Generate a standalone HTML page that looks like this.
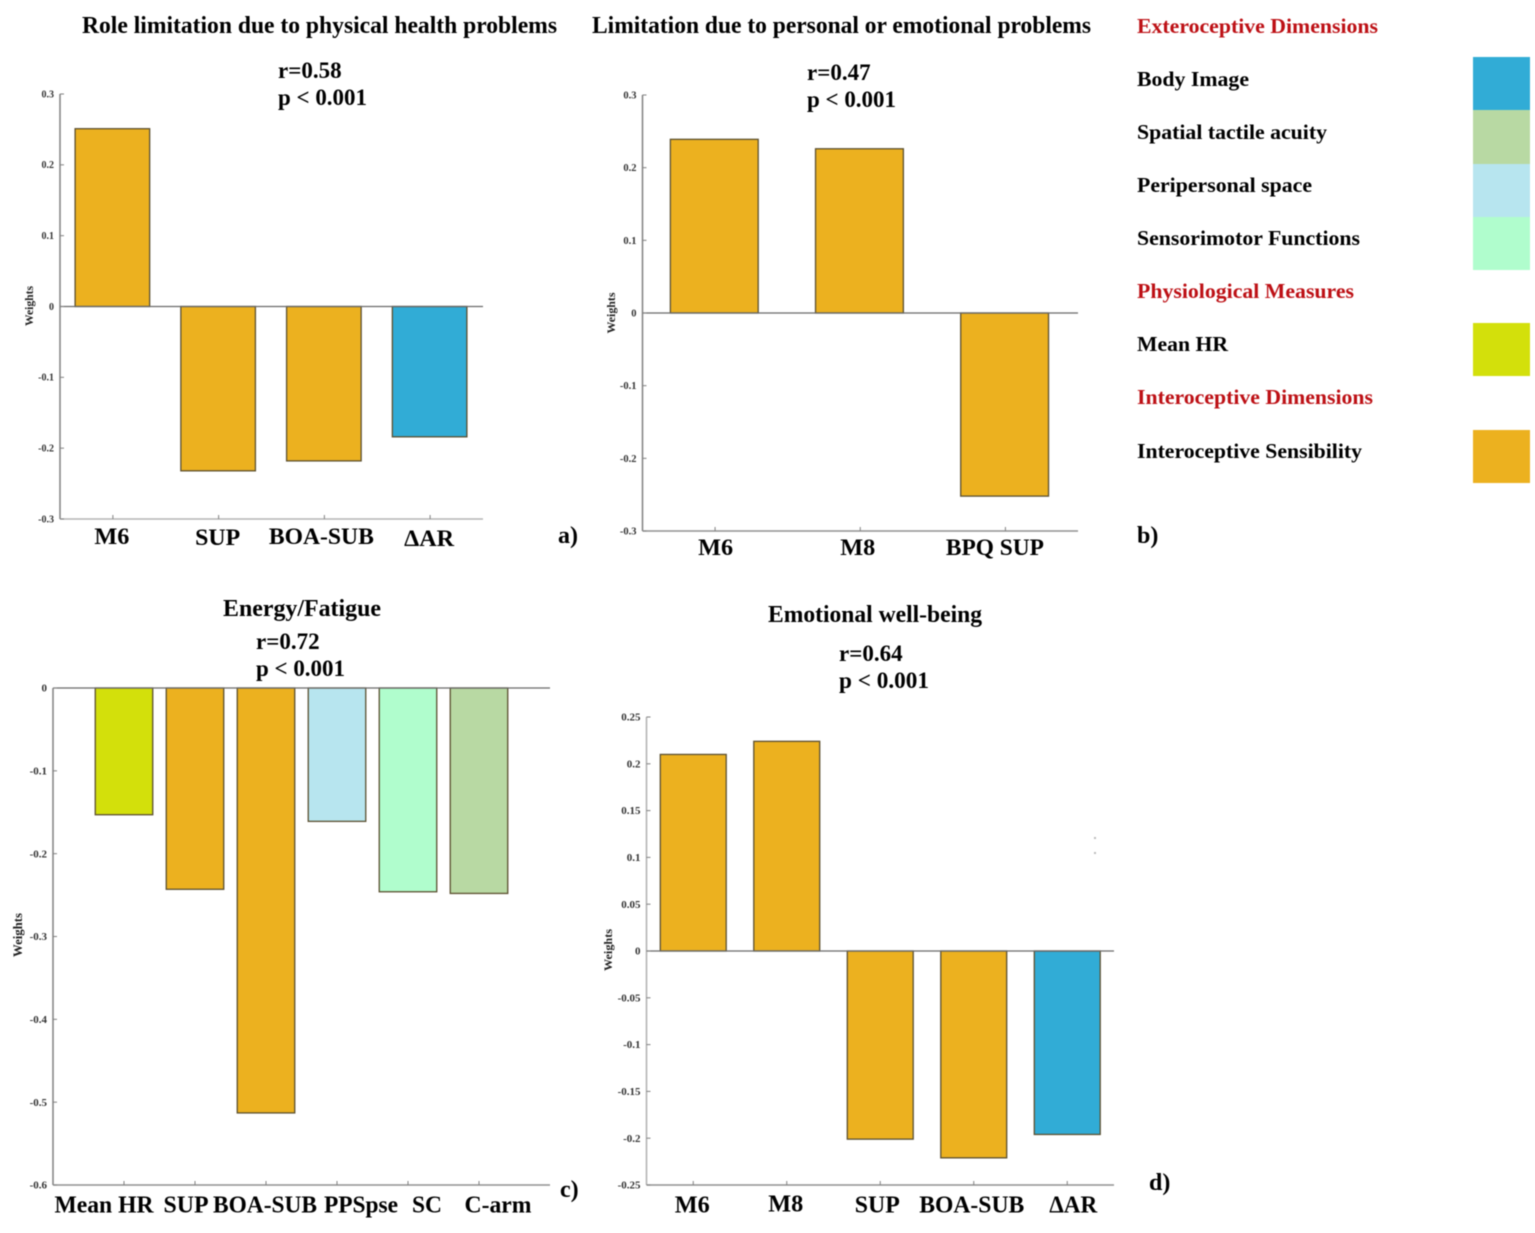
<!DOCTYPE html>
<html lang="en">
<head>
<meta charset="utf-8">
<title>Weights by quality-of-life dimension</title>
<style>
html,body{margin:0;padding:0;background:#fff;}
svg{display:block;filter:blur(0.45px);}
text{font-family:"Liberation Serif",serif;font-weight:bold;fill:#000;}
.head{font-size:24px;}
.stat{font-size:23px;}
.leg{font-size:21px;}
.red{fill:#bd1015;}
.letter{font-size:24px;}
</style>
</head>
<body>
<svg id="figure" width="1535" height="1233" viewBox="0 0 1535 1233" xmlns="http://www.w3.org/2000/svg">
<rect x="0" y="0" width="1535" height="1233" fill="#fff"/>

<text class="head" x="82" y="33" textLength="475" lengthAdjust="spacingAndGlyphs">Role limitation due to physical health problems</text>
<text class="stat" x="278" y="78">r=0.58</text>
<text class="stat" x="278" y="105" textLength="89" lengthAdjust="spacingAndGlyphs">p &lt; 0.001</text>
<text class="letter" x="558" y="543">a)</text>

<text class="head" x="592" y="33" textLength="499" lengthAdjust="spacingAndGlyphs">Limitation due to personal or emotional problems</text>
<text class="stat" x="807" y="80">r=0.47</text>
<text class="stat" x="807" y="107" textLength="89" lengthAdjust="spacingAndGlyphs">p &lt; 0.001</text>
<text class="letter" x="1137" y="543">b)</text>

<text class="head" x="223" y="616" textLength="158" lengthAdjust="spacingAndGlyphs">Energy/Fatigue</text>
<text class="stat" x="256" y="649">r=0.72</text>
<text class="stat" x="256" y="676" textLength="89" lengthAdjust="spacingAndGlyphs">p &lt; 0.001</text>
<text class="letter" x="560" y="1197">c)</text>

<text class="head" x="768" y="622" textLength="214" lengthAdjust="spacingAndGlyphs">Emotional well-being</text>
<text class="stat" x="839" y="661">r=0.64</text>
<text class="stat" x="839" y="688" textLength="90" lengthAdjust="spacingAndGlyphs">p &lt; 0.001</text>
<text class="letter" x="1149" y="1190">d)</text>

<g>
<text class="leg red" x="1137" y="33" textLength="241" lengthAdjust="spacingAndGlyphs">Exteroceptive Dimensions</text>
<text class="leg" x="1137" y="86" textLength="112" lengthAdjust="spacingAndGlyphs">Body Image</text>
<text class="leg" x="1137" y="139" textLength="190" lengthAdjust="spacingAndGlyphs">Spatial tactile acuity</text>
<text class="leg" x="1137" y="192" textLength="175" lengthAdjust="spacingAndGlyphs">Peripersonal space</text>
<text class="leg" x="1137" y="245" textLength="223" lengthAdjust="spacingAndGlyphs">Sensorimotor Functions</text>
<text class="leg red" x="1137" y="298" textLength="217" lengthAdjust="spacingAndGlyphs">Physiological Measures</text>
<text class="leg" x="1137" y="351" textLength="91" lengthAdjust="spacingAndGlyphs">Mean HR</text>
<text class="leg red" x="1137" y="404" textLength="236" lengthAdjust="spacingAndGlyphs">Interoceptive Dimensions</text>
<text class="leg" x="1137" y="458" textLength="225" lengthAdjust="spacingAndGlyphs">Interoceptive Sensibility</text>
<rect x="1473" y="57" width="57" height="53" fill="#31acd6"/>
<rect x="1473" y="110" width="57" height="54" fill="#b8d9a3"/>
<rect x="1473" y="164" width="57" height="53" fill="#b7e5ef"/>
<rect x="1473" y="217" width="57" height="53" fill="#b0fdcd"/>
<rect x="1473" y="323" width="57" height="53" fill="#d3e00b"/>
<rect x="1473" y="430" width="57" height="53" fill="#ecb11f"/>
</g>
<rect x="1094" y="837" width="2" height="2" fill="#bbb"/>
<rect x="1094" y="852" width="2" height="2" fill="#bbb"/>
<g id="panels"></g>
</svg>

<script>
// ---- chart data ----
const panelACategories = ['M6', 'SUP', 'BOA-SUB', 'ΔAR'];
const panelAValues = [0.251, -0.232, -0.218, -0.184];
const panelADimensions = ['intero', 'intero', 'intero', 'body'];
const panelATicks = ['0.3', '0.2', '0.1', '0', '-0.1', '-0.2', '-0.3'];

const panelBCategories = ['M6', 'M8', 'BPQ SUP'];
const panelBValues = [0.239, 0.226, -0.252];
const panelBDimensions = ['intero', 'intero', 'intero'];
const panelBTicks = ['0.3', '0.2', '0.1', '0', '-0.1', '-0.2', '-0.3'];

const panelCCategories = ['Mean HR', 'SUP', 'BOA-SUB', 'PPSpse', 'SC', 'C-arm'];
const panelCValues = [-0.153, -0.243, -0.513, -0.161, -0.246, -0.248];
const panelCDimensions = ['heart', 'intero', 'intero', 'peri', 'sensori', 'tactile'];
const panelCTicks = ['0', '-0.1', '-0.2', '-0.3', '-0.4', '-0.5', '-0.6'];

const panelDCategories = ['M6', 'M8', 'SUP', 'BOA-SUB', 'ΔAR'];
const panelDValues = [0.21, 0.224, -0.201, -0.221, -0.196];
const panelDDimensions = ['intero', 'intero', 'intero', 'intero', 'body'];
const panelDTicks = ['0.25', '0.2', '0.15', '0.1', '0.05', '0', '-0.05', '-0.1', '-0.15', '-0.2', '-0.25'];

// ---- styling and layout ----
const dimensionFill = {
  intero: '#ecb11f', body: '#31acd6', heart: '#d3e00b',
  peri: '#b7e5ef', sensori: '#b0fdcd', tactile: '#b8d9a3'
};
const NS = 'http://www.w3.org/2000/svg';
const root = document.getElementById('panels');

const panels = [
  { id: 'a', cats: panelACategories, vals: panelAValues, dims: panelADimensions, ticks: panelATicks,
    left: 60, right: 483, top: 94, bottom: 519, xMin: 0.5, xMax: 4.5, barFrac: 0.705, barShift: -0.5,
    axisColor: '#808080', baseColor: '#b4b4b4',
    tickFont: 10, tickColor: '#333', labelBase: 544, labelSize: 23.5, labelNudge: [-1, -1, -3, -1], labelDrop: [0, 1, 0, 2],
    labelWidth: [35, 45, 105, 50], weightX: 33, weightY: 306, weightFont: 12, weightLen: 40 },
  { id: 'b', cats: panelBCategories, vals: panelBValues, dims: panelBDimensions, ticks: panelBTicks,
    left: 642.5, right: 1078, top: 95, bottom: 531, xMin: 0.5, xMax: 3.5, barFrac: 0.605, barShift: -0.8,
    axisColor: '#808080', baseColor: '#909090',
    tickFont: 10.5, tickColor: '#333', labelBase: 555, labelSize: 23.5, labelNudge: [0.5, -2.5, -10.5], labelDrop: [0, 0, 0],
    labelWidth: [35, 35, 98], weightX: 615, weightY: 313, weightFont: 12, weightLen: 41 },
  { id: 'c', cats: panelCCategories, vals: panelCValues, dims: panelCDimensions, ticks: panelCTicks,
    left: 53, right: 550, top: 688, bottom: 1185, xMin: 0, xMax: 7, barFrac: 0.81, barShift: 0,
    axisColor: '#808080', baseColor: '#909090',
    tickFont: 11, tickColor: '#333', labelBase: 1212.5, labelSize: 24, labelNudge: [-20, -9, -1, 24, 19, 19], labelDrop: [0, 0, 0, 0, 0, 0],
    labelWidth: [99, 45, 104, 74, 30, 67], weightX: 22, weightY: 935, weightFont: 12.5, weightLen: 44 },
  { id: 'd', cats: panelDCategories, vals: panelDValues, dims: panelDDimensions, ticks: panelDTicks,
    left: 646.5, right: 1114, top: 717, bottom: 1185, xMin: 0.5, xMax: 5.5, barFrac: 0.705, barShift: 0,
    axisColor: '#b0b0b0', baseColor: '#909090',
    tickFont: 11, tickColor: '#333', labelBase: 1212.5, labelSize: 24, labelNudge: [-1, -1, -3, -2, 6], labelDrop: [0, -1, 0, 0, 0],
    labelWidth: [35, 35, 45, 105, 48], weightX: 612, weightY: 950, weightFont: 12, weightLen: 42 }
];

function svgEl(tag, attrs, parent) {
  const el = document.createElementNS(NS, tag);
  Object.keys(attrs).forEach(function (k) { el.setAttribute(k, attrs[k]); });
  parent.appendChild(el);
  return el;
}

panels.forEach(function (p) {
  const yMax = parseFloat(p.ticks[0]);
  const yMin = parseFloat(p.ticks[p.ticks.length - 1]);
  const yScale = function (v) { return p.bottom - (v - yMin) / (yMax - yMin) * (p.bottom - p.top); };
  const xScale = function (i) { return p.left + (i + 1 - p.xMin) / (p.xMax - p.xMin) * (p.right - p.left); };
  const step = xScale(1) - xScale(0);
  const barW = step * p.barFrac;

  const g = svgEl('g', {}, root);
  
  

  // bars
  p.vals.forEach(function (v, i) {
    const y0 = yScale(0), y1 = yScale(v);
    const bar = svgEl('rect', {
      x: xScale(i) + p.barShift - barW / 2, y: Math.min(y0, y1), width: barW, height: Math.abs(y1 - y0),
      fill: dimensionFill[p.dims[i]], stroke: '#5c5030', 'stroke-width': 1.3
    }, g);
    
    
  });

  // axes
  const yAxis = svgEl('line', { x1: p.left, x2: p.left, y1: p.top, y2: p.bottom, stroke: p.axisColor, 'stroke-width': 1.5 }, g);
  
  

  const xAxis = svgEl('line', { x1: p.left, x2: p.right, y1: p.bottom, y2: p.bottom, stroke: p.baseColor, 'stroke-width': 1.6 }, g);
  
  

  const zero = svgEl('line', { x1: p.left, x2: p.right, y1: yScale(0), y2: yScale(0), stroke: '#6a6a6a', 'stroke-width': 1.3 }, g);
  
  

  // y ticks and labels
  p.ticks.forEach(function (t) {
    const y = yScale(parseFloat(t));
    const tick = svgEl('line', { x1: p.left, x2: p.left + 4, y1: y, y2: y, stroke: '#808080', 'stroke-width': 1 }, g);
    
    

    const label = svgEl('text', {
      x: p.left - 6, y: y + p.tickFont * 0.33, 'text-anchor': 'end',
      'font-size': p.tickFont, style: 'fill:' + p.tickColor
    }, g);
    
    
    label.textContent = t;
  });

  // x ticks and labels
  p.cats.forEach(function (c, i) {
    const x = xScale(i);
    const tick = svgEl('line', { x1: x, x2: x, y1: p.bottom, y2: p.bottom - 4, stroke: '#808080', 'stroke-width': 1 }, g);
    
    

    const label = svgEl('text', {
      x: x + p.labelNudge[i], y: p.labelBase + p.labelDrop[i], 'text-anchor': 'middle',
      'font-size': p.labelSize, textLength: p.labelWidth[i], lengthAdjust: 'spacingAndGlyphs'
    }, g);
    
    
    label.textContent = c;
  });

  // y axis title
  const title = svgEl('text', {
    x: p.weightX, y: p.weightY, 'text-anchor': 'middle', 'font-size': p.weightFont,
    textLength: p.weightLen, lengthAdjust: 'spacingAndGlyphs',
    transform: 'rotate(-90 ' + p.weightX + ' ' + p.weightY + ')', style: 'fill:#222'
  }, g);
  
  
  title.textContent = 'Weights';
});
</script>
</body>
</html>
